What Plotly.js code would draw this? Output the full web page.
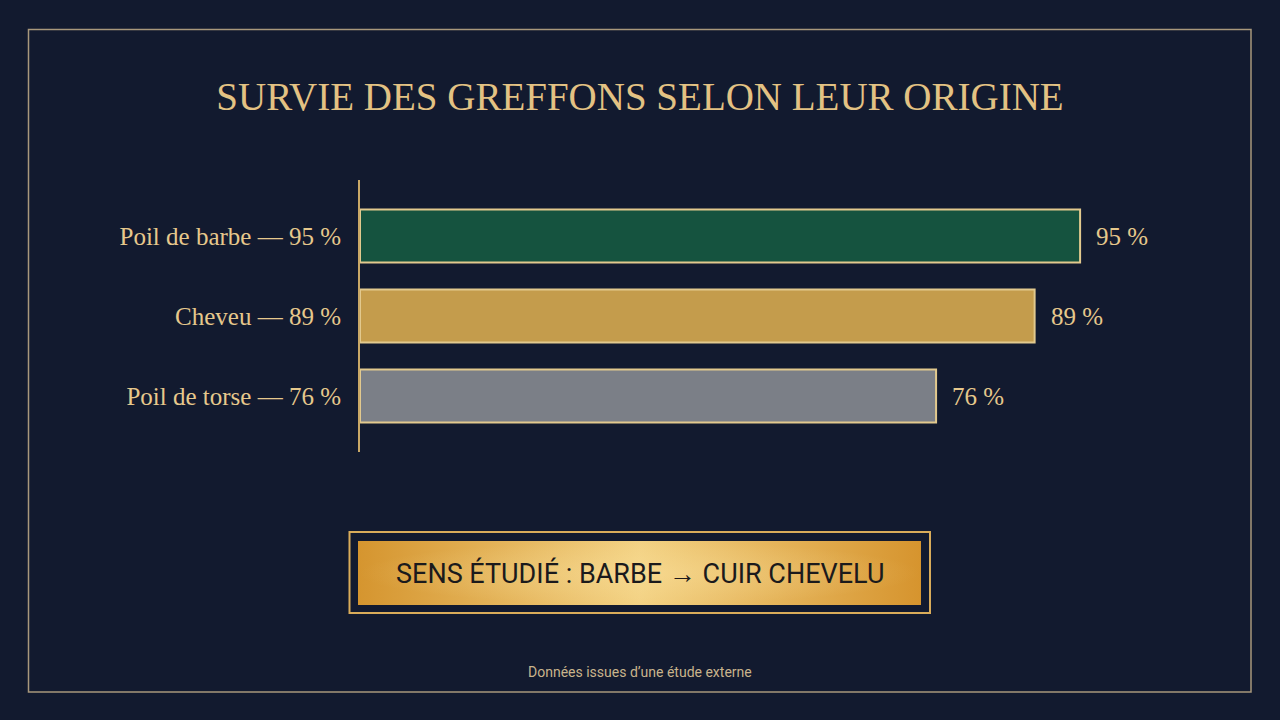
<!DOCTYPE html>
<html>
<head>
<meta charset="utf-8">
<script src="https://cdn.plot.ly/plotly-3.0.1.min.js"></script>
<style>
html,body{margin:0;padding:0;background:#121a2f;}
#chart{width:1280px;height:720px;}
</style>
</head>
<body>
<div id="chart"></div>
<script>
// ---- data ----
const categories = ["Poil de barbe", "Cheveu", "Poil de torse"];
const values = [95, 89, 76];
const barColors = ["#15533f", "#c49c4c", "#7b7f87"];
const titleText = "SURVIE DES GREFFONS SELON LEUR ORIGINE";
const bannerText = "SENS ÉTUDIÉ : BARBE → CUIR CHEVELU";
const footerText = "Données issues d’une étude externe";

const fmt = v => v + "\u00a0%";
const tickLabels = categories.map((c, i) => c + " — " + fmt(values[i]));

const gold = "#e6c88c";
const serif = "Liberation Serif, Times New Roman, serif";

const W = 1280, H = 720;
const M = {l: 360, r: 162, t: 180, b: 268};
const PW = W - M.l - M.r, PH = H - M.t - M.b;
// pixel -> paper coordinates (paper spans the plot area)
const px = x => (x - M.l) / PW;
const py = y => (H - M.b - y) / PH;

const trace = {
  type: "bar",
  orientation: "h",
  y: categories,
  x: values,
  width: 0.66,
  marker: {color: barColors, line: {color: "#e2c98e", width: 2}},
  hoverinfo: "skip"
};

const gradSvg = '<svg xmlns="http://www.w3.org/2000/svg" width="563" height="64" preserveAspectRatio="none">' +
  '<defs><linearGradient id="g" x1="0" x2="1" y1="0" y2="0">' +
  '<stop offset="0" stop-color="#d5952f"/><stop offset="0.5" stop-color="#f3d284"/><stop offset="1" stop-color="#d6942e"/>' +
  '</linearGradient><radialGradient id="r" cx="0.5" cy="0.5" r="0.5"><stop offset="0" stop-color="#fbe3a0" stop-opacity="0.4"/><stop offset="1" stop-color="#fbe3a0" stop-opacity="0"/></radialGradient></defs>' +
  '<rect width="563" height="64" fill="url(#g)"/><rect width="563" height="64" fill="url(#r)"/></svg>';
const gradUri = "data:image/svg+xml;base64," + btoa(gradSvg);

const valueAnnotations = categories.map((c, i) => ({
  x: values[i], y: c, xref: "x", yref: "y",
  text: fmt(values[i]), showarrow: false,
  xanchor: "left", yanchor: "middle", xshift: 14,
  font: {family: serif, size: 25, color: gold}
}));

const layout = {
  width: W, height: H,
  paper_bgcolor: "#121a2f",
  plot_bgcolor: "rgba(0,0,0,0)",
  margin: M,
  showlegend: false,
  xaxis: {range: [0, 100], visible: false, fixedrange: true},
  yaxis: {
    type: "category",
    categoryorder: "array",
    categoryarray: categories,
    autorange: false,
    range: [2.7, -0.7],
    tickmode: "array",
    tickvals: categories,
    ticktext: tickLabels,
    ticks: "",
    ticklabelstandoff: 12,
    tickfont: {family: serif, size: 25, color: gold},
    showgrid: false,
    zeroline: false,
    showline: true,
    linecolor: "#c9a866",
    linewidth: 2
  },
  title: {
    text: titleText,
    font: {family: serif, size: 39, color: "#e3c283"},
    xref: "container", x: 0.5, xanchor: "center",
    yref: "container", y: 1 - 96 / H, yanchor: "middle"
  },
  images: [{
    source: gradUri, xref: "paper", yref: "paper",
    x: px(358), y: py(541), sizex: (921 - 358) / PW, sizey: (605 - 541) / PH,
    xanchor: "left", yanchor: "top", sizing: "stretch", layer: "below"
  }],
  shapes: [
    {type: "rect", xref: "paper", yref: "paper", x0: px(28.5), x1: px(1251), y0: py(29.5), y1: py(692),
     line: {color: "#a8987c", width: 1.5}, layer: "below"},
    {type: "rect", xref: "paper", yref: "paper", x0: px(349.5), x1: px(930), y0: py(532), y1: py(613),
     line: {color: "#d9ac5a", width: 2}, layer: "below"}
  ],
  annotations: valueAnnotations.concat([
    {text: bannerText, xref: "paper", yref: "paper", x: px(640), y: py(573), xanchor: "center", yanchor: "middle",
     showarrow: false, font: {family: "Roboto, sans-serif", size: 27, color: "#1b1a1c"}},
    {text: footerText, xref: "paper", yref: "paper", x: px(640), y: py(672), xanchor: "center", yanchor: "middle",
     showarrow: false, font: {family: "Roboto, sans-serif", size: 14, color: "#c9b48c"}}
  ])
};

Plotly.newPlot("chart", [trace], layout, {displayModeBar: false, staticPlot: true});
</script>
</body>
</html>
